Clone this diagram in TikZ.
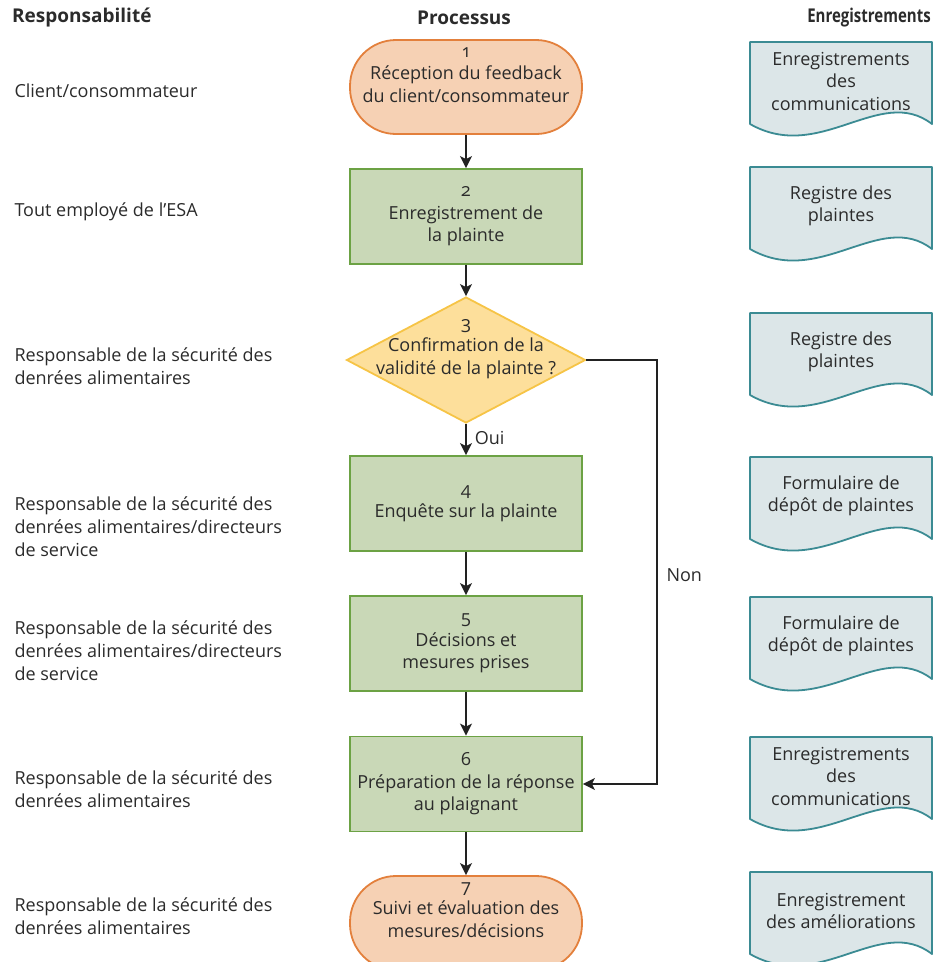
\documentclass[tikz,border=0pt]{standalone}
\usepackage{fontspec}
\setmainfont{Open Sans}[Numbers=OldStyle]
\usetikzlibrary{arrows.meta,shapes.geometric}

\definecolor{txt}{HTML}{2B2B2B}
\definecolor{termfill}{HTML}{F6D1B4}
\definecolor{termline}{HTML}{E3803C}
\definecolor{stepfill}{HTML}{C9D8B7}
\definecolor{stepline}{HTML}{6CA244}
\definecolor{decfill}{HTML}{FDDF9B}
\definecolor{decline}{HTML}{F6C446}
\definecolor{docfill}{HTML}{DCE6E8}
\definecolor{docline}{HTML}{3B8B93}
\definecolor{arrowcol}{HTML}{222222}

% Record sheet with a wavy lower edge: name, top y, text
\newcommand\recdoc[3]{%
  \path[docshape] (750,#2) -- (932,#2) -- (932,{#2+82})
    .. controls (880,{#2+42}) and (820,{#2+122}) .. (750,{#2+82}) -- cycle;
  \node[align=center] (#1) at (841,{#2+39}) {#3};
}

\begin{document}
\begin{tikzpicture}[x=1pt,y=-1pt,
  font=\fontsize{18}{22.5}\selectfont, text=txt,
  term/.style={draw=termline, fill=termfill, line width=1.8pt,
    rounded corners=46pt, minimum width=232pt, minimum height=94pt, inner sep=0pt},
  stepbox/.style={draw=stepline, fill=stepfill, line width=1.8pt,
    minimum width=232pt, minimum height=95pt, inner sep=0pt, align=center},
  decision/.style={diamond, draw=decline, fill=decfill, line width=1.8pt,
    minimum width=239pt, minimum height=126pt, inner sep=0pt},
  docshape/.style={draw=docline, fill=docfill, line width=1.8pt, line join=round},
  lbl/.style={anchor=west, align=left, font=\fontsize{18}{23}\selectfont},
  head/.style={font=\fontsize{19}{22}\selectfont\bfseries},
  arr/.style={draw=arrowcol, line width=1.8pt,
    -{Stealth[length=12pt, width=12pt, inset=3pt]}}
]
\clip (0,0) rectangle (933,962);

% column headings
\node[head, anchor=west, inner sep=0pt] (hresp) at (12,18) {Responsabilité};
\node[head] (hproc) at (464,18) {Processus};
\node[head, anchor=east, inner sep=0pt]
  (hrec) at (931,18) {\scalebox{0.79}[1]{Enregistrements}};

% responsibilities
\node[lbl] (r1) at (11,91) {Client/consommateur};
\node[lbl] (r2) at (11,212) {Tout employé de l’ESA};
\node[lbl] (r3) at (11,366.5) {Responsable de la sécurité des\\denrées alimentaires};
\node[lbl] (r4) at (11,527) {Responsable de la sécurité des\\denrées alimentaires/directeurs\\de service};
\node[lbl] (r5) at (11,651) {Responsable de la sécurité des\\denrées alimentaires/directeurs\\de service};
\node[lbl] (r6) at (11,789) {Responsable de la sécurité des\\denrées alimentaires};
\node[lbl] (r7) at (11,916) {Responsable de la sécurité des\\denrées alimentaires};

% process steps
\node[term] (n1) at (466,87) {};
\node[align=center] (t1) at (466,75) {1\\Réception du feedback\\du client/consommateur};
\node[stepbox] (n2) at (466,216.5) {2\\Enregistrement de\\la plainte};
\node[decision] (n3) at (466,360) {};
\node[align=center] (t3) at (466,349) {3\\Confirmation de la\\validité de la plainte ?};
\node[stepbox] (n4) at (466,503.5) {4\\Enquête sur la plainte};
\node[stepbox] (n5) at (466,643.5) {5\\Décisions et\\mesures prises};
\node[stepbox] (n6) at (466,784) {6\\Préparation de la réponse\\au plaignant};
\node[term] (n7) at (466,923) {};
\node[align=center] (t7) at (466,910) {7\\Suivi et évaluation des\\mesures/décisions};

% flow
\draw[arr] (n1) -- (n2);
\draw[arr] (n2) -- (n3);
\draw[arr] (n3) -- node[anchor=west, pos=0.45, inner sep=8pt] (oui) {Oui} (n4);
\draw[arr] (n4) -- (n5);
\draw[arr] (n5) -- (n6);
\draw[arr] (n6) -- (n7);
\coordinate (nonx) at (657,360);
\draw[arr] (n3.east) -- (nonx) |- (n6.east);
\node[anchor=west] (non) at (663,575) {Non};

% records
\recdoc{d1}{42}{Enregistrements\\des\\communications}
\recdoc{d2}{167}{Registre des\\plaintes}
\recdoc{d3}{313}{Registre des\\plaintes}
\recdoc{d4}{457}{Formulaire de\\dépôt de plaintes}
\recdoc{d5}{597}{Formulaire de\\dépôt de plaintes}
\recdoc{d6}{737}{Enregistrements\\des\\communications}
\recdoc{d7}{872}{Enregistrement\\des améliorations}
\end{tikzpicture}
\end{document}
